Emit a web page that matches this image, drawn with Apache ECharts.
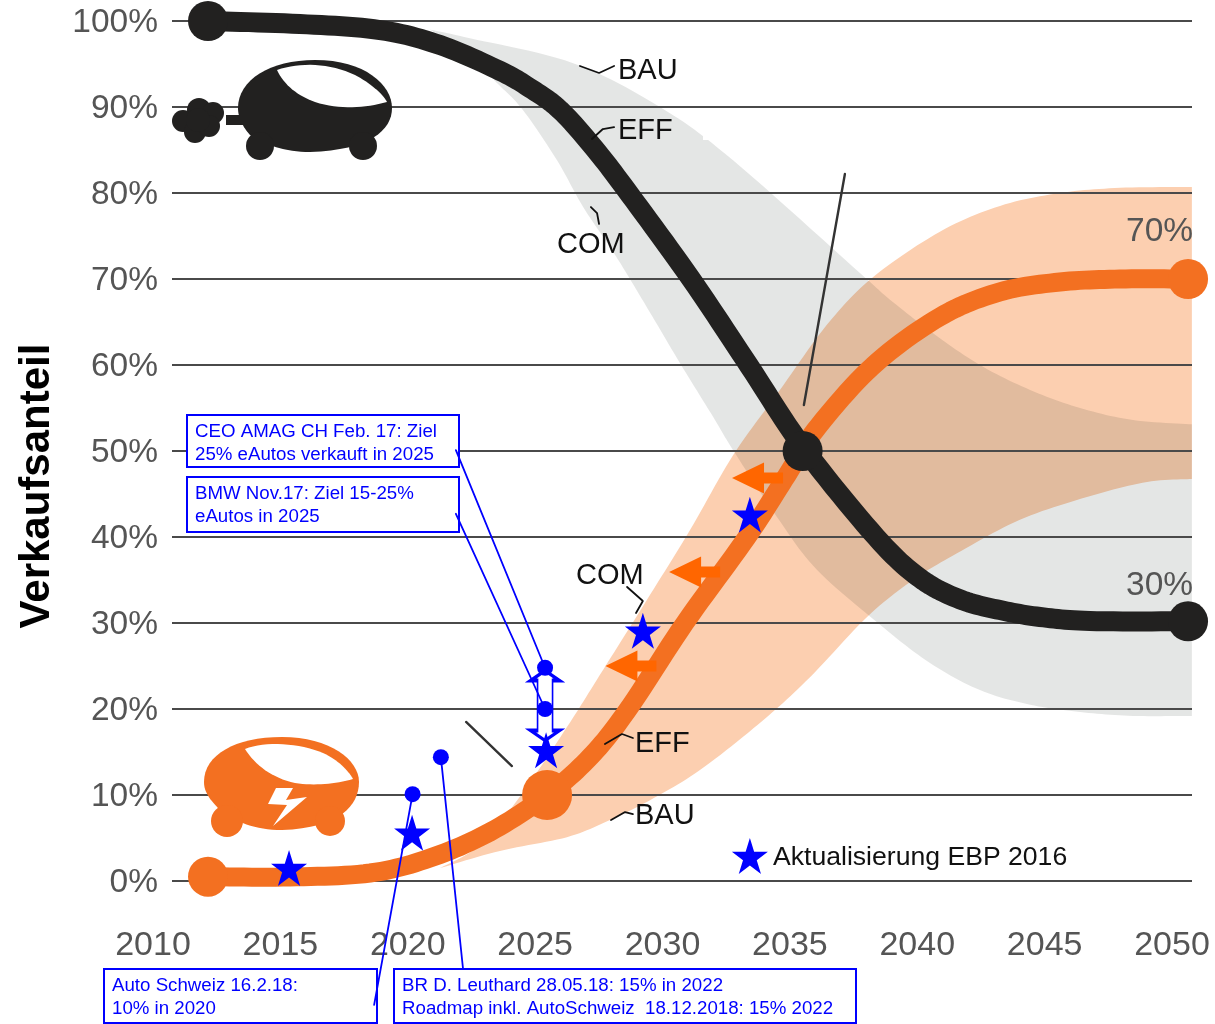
<!DOCTYPE html>
<html><head><meta charset="utf-8">
<style>html,body{margin:0;padding:0;background:#fff}#c{width:1215px;height:1024px}</style>
<script src="https://cdn.jsdelivr.net/npm/echarts@6/dist/echarts.min.js"></script>
</head><body><div id="c"></div>
<script>
const xTicks = [2010,2015,2020,2025,2030,2035,2040,2045,2050];
const yTicks = [0,10,20,30,40,50,60,70,80,90,100];
const blackEFF = [[2012.16,100],[2015.77,99.65],[2018.91,98.95],[2021.27,97.2],[2023.62,94.2],[2024.8,92.2],[2025.98,89.65],[2027.35,85.1],[2028.72,79.8],[2031.12,70],[2033.4,59.9],[2035.5,50.5],[2038.38,40],[2040.11,35.2],[2041.68,32.75],[2043.25,31.5],[2044.82,30.7],[2046.78,30.23],[2050.63,30.2]];
const orangeEFF = [[2012.16,0.5],[2015.38,0.47],[2018.52,0.93],[2020.87,2.67],[2023.23,5.7],[2025.47,10],[2027.15,14.4],[2028.61,19.8],[2030.88,30],[2033.32,40],[2034.89,47.2],[2035.99,52.4],[2038.26,59.9],[2040.89,65.6],[2043.25,68.5],[2045.6,69.65],[2047.96,70],[2050.63,70]];
const orangeUpper = [[2021.27,1.5],[2022.84,4.2],[2024.4,9.8],[2026.25,17.9],[2027.55,24],[2029.39,32.7],[2031.08,40.8],[2032.77,49.5],[2034.61,57.1],[2036.46,64.7],[2038.26,70.2],[2040.89,75.5],[2043.25,78.5],[2045.6,80],[2047.96,80.6],[2050.78,80.7]];
const orangeLower = [[2021.27,1.5],[2023.62,3.5],[2026.25,5.1],[2027.94,7.1],[2029.51,9.4],[2031.47,12.9],[2033.95,18.7],[2035.79,23.7],[2038.03,30.7],[2039.83,35],[2041.56,38.1],[2044.03,42],[2046.66,44.65],[2049.02,46.4],[2050.78,46.75]];
const greyUpper = [[2020.87,99],[2022.44,98],[2026.49,95.1],[2029.9,90],[2032.77,83.8],[2037.75,70.7],[2038.93,67.6],[2040.62,63.7],[2042.46,60],[2044.43,57.1],[2046.39,55],[2048.47,53.6],[2050.78,53.1]];
const greyLower = [[2020.87,99],[2022.44,96],[2023.5,92.8],[2024.52,89.65],[2025.86,83.8],[2026.88,78.4],[2028.14,72.8],[2029.39,66.7],[2030.69,60.2],[2031.98,54],[2032.77,50.1],[2034.5,42.3],[2036.06,36.2],[2038.54,29.8],[2040.5,25.35],[2042.46,22.2],[2044.43,20.5],[2046.39,19.65],[2048.47,19.2],[2050.78,19.2]];
const blackDots = [[2012.16,100],[2035.5,50],[2050.63,30.2]];
const orangeDots = [[2012.16,0.5,40],[2025.47,10,50],[2050.63,70,40]];
const stars = [[2015.34,1.5],[2020.17,5.6],[2025.43,15.2],[2029.23,29.1],[2033.43,42.6],[2033.43,2.9]];
const blueDots = [[2025.39,24.8],[2025.39,20],[2020.19,10.1],[2021.3,14.4]];
const leaders = [
  [[2021.89,50.1],[2025.39,24.8]],
  [[2021.89,42.7],[2025.39,20]],
  [[2018.68,-14.4],[2020.19,10.1]],
  [[2022.17,-10.2],[2021.3,14.4]]
];
const callouts = [
  [[2026.76,94.77],[2027.51,93.95],[2028.10,94.77]],
  [[2027.23,86.28],[2027.66,87.44],[2028.10,87.67]],
  [[2027.19,78.37],[2027.43,77.67],[2027.51,76.4]],
  [[2028.61,34.19],[2029.23,32.56],[2028.96,31.16]],
  [[2027.74,15.93],[2028.41,17.09],[2028.84,16.63]],
  [[2027.98,7.09],[2028.53,8.02],[2028.84,7.79]]
];
const slashes = [
  [[2037.16,82.21],[2035.55,55.35]],
  [[2022.29,18.49],[2024.09,13.37]]
];
const leftArrows = [[2033.73,46.86],[2031.26,35.93],[2028.76,25]];
const doubleArrow = [[2025.39,20.4]];
const boxes = [
  {x:187,y:415,w:272,h:52,lines:['CEO AMAG CH Feb. 17: Ziel','25% eAutos verkauft in 2025']},
  {x:187,y:477,w:272,h:55,lines:['BMW Nov.17: Ziel 15-25%','eAutos in 2025']},
  {x:104,y:969,w:273,h:54,lines:['Auto Schweiz 16.2.18:','10% in 2020']},
  {x:394,y:969,w:462,h:54,lines:['BR D. Leuthard 28.05.18: 15% in 2022','Roadmap inkl. AutoSchweiz  18.12.2018: 15% 2022']}
];
const labels = [
  ['BAU',618,71,29,'#111'],['EFF',618,131,29,'#111'],['COM',557,245,29,'#111'],
  ['COM',576,576,29,'#111'],['EFF',635,744,29,'#111'],['BAU',635,816,29,'#111'],
  ['Aktualisierung EBP 2016',773,858,26.6,'#111'],
  ['70%',1126,232,33.5,'#555'],['30%',1126,586,33.5,'#555']
];
const FONT = '"Liberation Sans", Arial, sans-serif';
const STAR = 'path://M50 0 L61.8 36.3 L100 36.3 L69.1 58.8 L80.9 95.1 L50 72.6 L19.1 95.1 L30.9 58.8 L0 36.3 L38.2 36.3 Z';
const LEFT = 'path://M0 15.5 L32 0 L32 10 L51 10 L51 21 L32 21 L32 31 Z';
const DOUBLE = 'path://M14.5 0 L29 10 L22 10 L22 60 L29 60 L14.5 70 L0 60 L7 60 L7 10 L0 10 Z';

function catmull(pts){
  const out=[];
  for(let i=0;i<pts.length-1;i++){
    const p0=pts[Math.max(i-1,0)],p1=pts[i],p2=pts[i+1],p3=pts[Math.min(i+2,pts.length-1)];
    for(let k=0;k<12;k++){
      const t=k/12,t2=t*t,t3=t2*t;
      out.push([0,1].map(j=>0.5*(2*p1[j]+(p2[j]-p0[j])*t+(2*p0[j]-5*p1[j]+4*p2[j]-p3[j])*t2+(3*p1[j]-p0[j]-3*p2[j]+p3[j])*t3)));
    }
  }
  out.push(pts[pts.length-1]);
  return out;
}
function band(upper,lower,color,name,z){
  return {type:'custom',name,xAxisIndex:0,yAxisIndex:0,z,silent:true,clip:false,
    data:upper.concat(lower),
    encode:{x:0,y:1},
    renderItem(params,api){
      if(params.dataIndex!==0) return null;
      const u=catmull(upper.map(p=>api.coord(p)));
      const l=catmull(lower.map(p=>api.coord(p))).reverse();
      return {type:'polygon',shape:{points:u.concat(l)},style:{fill:color}};
    }};
}
function curve(data,color,width,z,name){
  return {type:'custom',name,xAxisIndex:0,yAxisIndex:0,z,silent:true,clip:false,
    data,
    encode:{x:0,y:1},
    renderItem(params,api){
      if(params.dataIndex!==0) return null;
      return {type:'polyline',shape:{points:catmull(data.map(p=>api.coord(p)))},style:{fill:null,stroke:color,lineWidth:width,lineJoin:'round'}};
    }};
}
function lineS(data,color,width,z){
  return {type:'line',data,xAxisIndex:0,yAxisIndex:0,showSymbol:false,symbol:'none',clip:false,silent:true,z,
    lineStyle:{color,width,cap:'round'},itemStyle:{color}};
}
const series=[
  band(orangeUpper,orangeLower,'#fccfb0','COM-BAU orange',-2),
  band(greyUpper,greyLower,'rgba(0,20,10,0.105)','COM-BAU grey',-1),
  curve(orangeEFF,'#f37021',19,3,'EFF orange'),
  curve(blackEFF,'#222120',20,4,'EFF black'),
  {type:'scatter',data:orangeDots.map(d=>[d[0],d[1]]),symbolSize:(v,p)=>orangeDots[p.dataIndex][2],clip:false,silent:true,z:3,itemStyle:{color:'#f37021',opacity:1},xAxisIndex:0,yAxisIndex:0},
  {type:'scatter',data:blackDots,symbolSize:40,clip:false,silent:true,z:5,itemStyle:{color:'#222120',opacity:1},xAxisIndex:0,yAxisIndex:0}
];
callouts.forEach(c=>series.push(lineS(c,'#111',1.8,6)));
slashes.forEach(c=>series.push(lineS(c,'#333',2.4,6)));
series.push({type:'scatter',data:leftArrows,symbol:LEFT,symbolSize:[51,31],clip:false,silent:true,z:7,itemStyle:{color:'#ff6600',opacity:1},xAxisIndex:0,yAxisIndex:0});
series.push({type:'scatter',data:doubleArrow,symbol:DOUBLE,symbolSize:[29,70],clip:false,silent:true,z:7,itemStyle:{color:'#fff',borderColor:'#0000ff',borderWidth:2.5,opacity:1},xAxisIndex:0,yAxisIndex:0});
leaders.forEach(c=>series.push(lineS(c,'#0000ff',1.8,8)));
series.push({type:'scatter',data:blueDots,symbolSize:16,clip:false,silent:true,z:9,itemStyle:{color:'#0000ff',opacity:1},xAxisIndex:0,yAxisIndex:0});
series.push({type:'scatter',data:stars,symbol:STAR,symbolSize:36,clip:false,silent:true,z:10,itemStyle:{color:'#0000ff',opacity:1},xAxisIndex:0,yAxisIndex:0});

const graphic=[];
graphic.push({type:'rect',shape:{x:703,y:125,width:22,height:15},style:{fill:'#fff'},z:-0.5,silent:true});
const K='#222120',O='#f37021';
function circ(cx,cy,r,fill){graphic.push({type:'circle',shape:{cx,cy,r},style:{fill},z:11,silent:true});}
function poly(points,fill,z){graphic.push({type:'polygon',shape:{points},style:{fill},z:z||11,silent:true});}
function bez(start,segs,fill,z){
  const pts=[start];let p=start;
  segs.forEach(s=>{
    for(let k=1;k<=16;k++){
      const t=k/16,u=1-t;
      pts.push([0,1].map(j=>u*u*u*p[j]+3*u*u*t*s[0][j]+3*u*t*t*s[1][j]+t*t*t*s[2][j]));
    }
    p=s[2];
  });
  poly(pts,fill,z);
}
bez([238,108],[[[238,80],[270,60],[315,60]],[[365,60],[392,85],[392,108]],[[392,130],[370,150],[310,152]],[[285,152],[265,145],[250,135]],[[243,127],[238,118],[238,108]]],K);
circ(260,146,14,K);circ(363,146,14,K);
graphic.push({type:'rect',shape:{x:226,y:115,width:22,height:10},style:{fill:K},z:11,silent:true});
circ(199,110,12,K);circ(213,113,11,K);circ(183,121,11,K);circ(195,132,11,K);circ(209,126,11,K);circ(198,120,12,K);
bez([277,70],[[[300,62],[330,63],[355,75]],[[370,83],[382,93],[387,102]],[[365,108],[340,110],[315,102]],[[298,96],[284,85],[277,70]]],'#fff',12);
bez([204,782],[[[204,755],[235,737],[282,737]],[[330,737],[359,760],[359,782]],[[359,805],[340,828],[282,830]],[[255,830],[235,822],[220,810]],[[210,800],[204,792],[204,782]]],O);
circ(227,821,16,O);circ(330,821,15,O);
bez([245,749],[[[265,741],[300,743],[323,753]],[[338,760],[348,770],[353,779]],[[335,784],[315,786],[295,783]],[[272,778],[255,765],[245,749]]],'#fff',12);
poly([[276,788],[293,788],[286,800],[307,797],[273,826],[287,805],[268,804]],'#fff',12);
boxes.forEach(b=>{
  graphic.push({type:'rect',shape:{x:b.x,y:b.y,width:b.w,height:b.h},style:{fill:'#fff',stroke:'#0000ff',lineWidth:2},z:1,silent:true});
  b.lines.forEach((t,i)=>graphic.push({type:'text',x:b.x+8,y:b.y+17+i*23,style:{text:t,font:'18.7px '+FONT,fill:'#0000ff',align:'left',verticalAlign:'middle'},z:12,silent:true}));
});
labels.forEach(l=>graphic.push({type:'text',x:l[1],y:l[2],style:{text:l[0],font:l[3]+'px '+FONT,fill:l[4],align:'left',verticalAlign:'middle'},z:12,silent:true}));
graphic.push({type:'text',x:37,y:486,rotation:Math.PI/2,style:{text:'Verkaufsanteil',font:'bold 42px '+FONT,fill:'#000',align:'center',verticalAlign:'middle'},z:12,silent:true});

const chart=echarts.init(document.getElementById('c'),null,{renderer:'canvas'});
chart.setOption({
  animation:false,
  backgroundColor:'#fff',
  grid:[
    {left:172,width:1020,top:21,height:860,containLabel:false},
    {left:153,width:1019,top:21,height:860,containLabel:false}
  ],
  xAxis:[
    {type:'value',gridIndex:0,min:2010.746,max:2050.785,show:false,splitLine:{show:false}},
    {type:'value',gridIndex:1,min:xTicks[0],max:xTicks[xTicks.length-1],interval:5,
     axisLine:{show:false},axisTick:{show:false},splitLine:{show:false},
     axisLabel:{color:'#555',fontFamily:FONT,fontSize:34,margin:48,hideOverlap:false,showMinLabel:true,showMaxLabel:true,formatter:v=>String(v)}}
  ],
  yAxis:[
    {type:'value',gridIndex:0,min:yTicks[0],max:yTicks[yTicks.length-1],interval:10,
     axisLine:{show:false},axisTick:{show:false},
     axisLabel:{color:'#555',fontFamily:FONT,fontSize:33.5,margin:14,verticalAlign:'top',lineHeight:4,formatter:'{value}%'},
     splitLine:{show:true,lineStyle:{color:'#4a4a4a',width:2}}},
    {type:'value',gridIndex:1,min:0,max:100,show:false,splitLine:{show:false}}
  ],
  series,
  graphic:{elements:graphic}
});
</script></body></html>
